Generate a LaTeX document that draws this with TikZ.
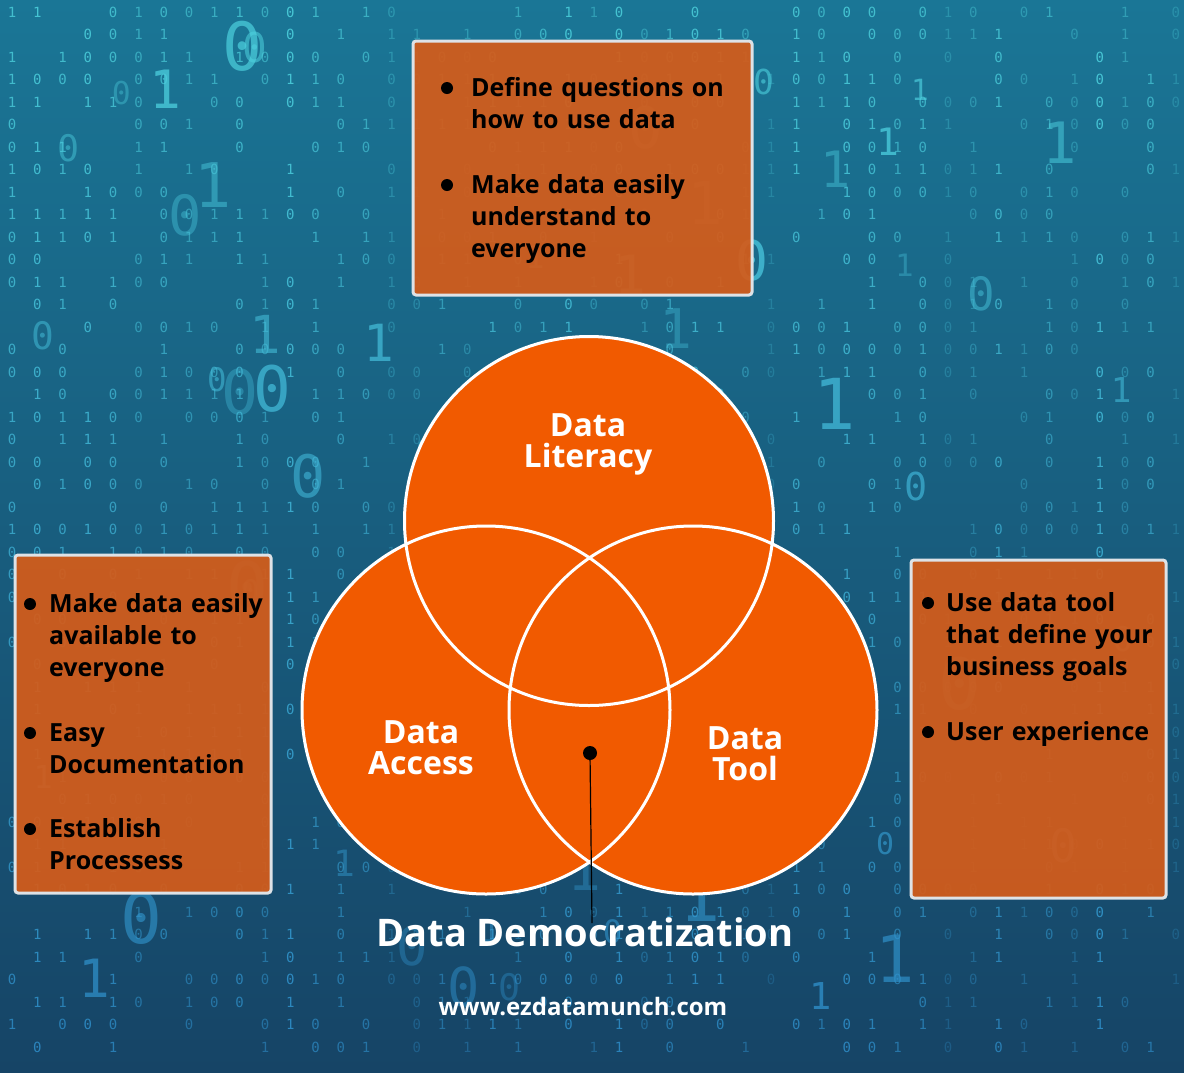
\documentclass[tikz,border=0pt]{standalone}
\usepackage{fontspec}
\setmainfont{Open Sans}
\newfontfamily\digitfont{DejaVu Sans Mono}
\usetikzlibrary{positioning}
\definecolor{vennorange}{RGB}{241,90,0}
\definecolor{boxorange}{RGB}{212,92,26}
\definecolor{boxedge}{RGB}{222,226,230}
\definecolor{bgtop}{RGB}{26,118,150}
\definecolor{bgmid}{RGB}{24,94,130}
\definecolor{bgbot}{RGB}{22,68,102}
\definecolor{digitcyan}{RGB}{80,215,225}
\definecolor{digitblue}{RGB}{45,140,205}

\tikzset{
  infobox/.style={draw=boxedge, line width=3pt, fill=boxorange, fill opacity=0.93, rounded corners=3pt},
  itemtext/.style={anchor=base west, inner sep=0pt, text width=330pt, align=left,
    font=\bfseries\fontsize{25}{32}\selectfont, text=black},
  bulletdot/.style={circle, fill=black, inner sep=0pt, minimum size=12pt},
  venntext/.style={align=center, text=white, inner sep=0pt, font=\bfseries\fontsize{32}{31}\selectfont},
  digit/.style={inner sep=0pt, font=\digitfont\fontsize{14}{14}\selectfont},
}

\begin{document}
\begin{tikzpicture}[x=1pt, y=-1pt]
  %%%%% BACKGROUND %%%%%
  \useasboundingbox (0,0) rectangle (1184,1072);
  \shade[top color=bgtop, middle color=bgmid, bottom color=bgbot] (0,0) rectangle (1184,1072);

  \pgfmathsetseed{17}
  \foreach \col in {0,...,46}{
    \pgfmathsetmacro\cx{12+25.3*\col}
    \pgfmathsetmacro\cop{0.25+0.6*rnd}
    \foreach \row in {0,...,46}{
      \pgfmathrandominteger{\bit}{0}{1}
      \pgfmathrandominteger{\shown}{0}{9}
      \pgfmathtruncatemacro\mix{100-2*\row}
      \ifnum\shown<6
        \node[digit, text=digitcyan!\mix!digitblue, opacity=\cop] at (\cx,12+22.5*\row) {\bit};
      \fi
    }
  }
  \foreach \k in {1,...,70}{
    \pgfmathsetmacro\bx{40+1100*rnd}
    \pgfmathsetmacro\by{45+980*rnd}
    \pgfmathsetmacro\bs{28+44*rnd}
    \pgfmathsetmacro\bop{0.35+0.45*rnd}
    \pgfmathtruncatemacro\mix{100-\by/11}
    \pgfmathrandominteger{\bit}{0}{1}
    \node[digit, text=digitcyan!\mix!digitblue, opacity=\bop,
      font=\digitfont\fontsize{\bs}{\bs}\selectfont] at (\bx,\by) {\bit};
  }

  %%%%% BOXES %%%%%
  \draw[infobox] (413,41) rectangle (752,295);
  \draw[infobox] (15,555) rectangle (271,893);
  \draw[infobox] (911,560) rectangle (1166,898);

  % top box
  \node[bulletdot] (q1) at (447,88) {};
  \node[itemtext] (q1text) at (471,96) {Define questions on\\how to use data};
  \node[bulletdot] (q2) at (447,185) {};
  \node[itemtext] (q2text) at (471,193) {Make data easily\\understand to\\everyone};

  % left box
  \node[bulletdot] (a1) at (30,604) {};
  \node[itemtext] (a1text) at (49,612) {Make data easily\\available to\\everyone};
  \node[bulletdot] (a2) at (30,733) {};
  \node[itemtext] (a2text) at (49,741) {Easy\\Documentation};
  \node[bulletdot] (a3) at (30,829) {};
  \node[itemtext] (a3text) at (49,837) {Establish\\Processess};

  % right box
  \node[bulletdot] (t1) at (928,603) {};
  \node[itemtext] (t1text) at (946,611) {Use data tool\\that define your\\business goals};
  \node[bulletdot] (t2) at (928,732) {};
  \node[itemtext] (t2text) at (946,740) {User experience};

  %%%%% VENN %%%%%
  \coordinate (literacy) at (589,521);
  \coordinate (access) at (486,710);
  \coordinate (tool) at (693,710);
  \fill[vennorange] (literacy) circle (184.5pt) (access) circle (184pt) (tool) circle (184pt);
  \draw[white, line width=3pt] (literacy) circle (184.5pt) (access) circle (184pt) (tool) circle (184pt);

  \node[venntext] (literacylabel) at (588,444) {Data\\Literacy};
  \node[venntext] (accesslabel) at (421,748) {Data\\Access};
  \node[venntext] (toollabel) at (745,754) {Data\\Tool};

  \node[bulletdot, minimum size=14pt] (core) at (590,753) {};
  \coordinate (titletop) at (592,923);
  \draw[black, line width=1.2pt] (core) -- (titletop);

  \node[text=white, font=\bfseries\fontsize{38}{42}\selectfont] (title) at (585,932) {Data Democratization};
  \node[text=white, font=\bfseries\fontsize{24}{28}\selectfont] (site) at (583,1007) {www.ezdatamunch.com};
\end{tikzpicture}
\end{document}
